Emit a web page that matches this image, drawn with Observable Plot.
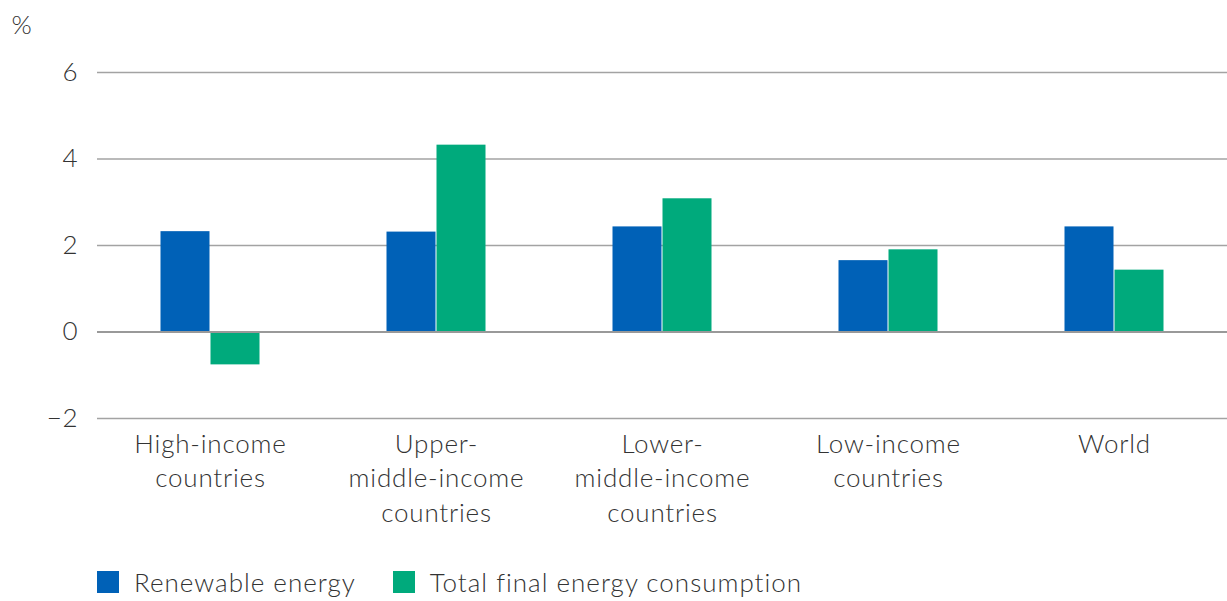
<!DOCTYPE html>
<html>
<head>
<meta charset="utf-8">
<script src="https://cdn.jsdelivr.net/npm/d3@7"></script>
<script src="https://cdn.jsdelivr.net/npm/@observablehq/plot@0.6"></script>
<style>
  html, body { margin: 0; padding: 0; background: #fff; }
  body { width: 1227px; height: 601px; position: relative; overflow: hidden;
         font-family: Lato, "Open Sans", sans-serif; font-weight: 300; color: #333; }
  #legend { position: absolute; left: 97px; top: 560px; height: 44px; display: flex; align-items: center; font-size: 26px; letter-spacing: 1px; }
  .item { display: flex; align-items: center; margin-right: 37px; }
  .sw { width: 22px; height: 22px; margin-right: 15px; }
</style>
</head>
<body>
<div id="chart"></div>
<div id="legend"></div>
<script>
const categories = ["High-income countries", "Upper-middle-income countries", "Lower-middle-income countries", "Low-income countries", "World"];
const categoryLabels = ["High-income\ncountries", "Upper-\nmiddle-income\ncountries", "Lower-\nmiddle-income\ncountries", "Low-income\ncountries", "World"];
const series = ["Renewable energy", "Total final energy consumption"];
const renewable = [2.32, 2.31, 2.43, 1.65, 2.43];
const totalFinal = [-0.76, 4.32, 3.08, 1.90, 1.43];
const colors = ["#0061b7", "#00aa7c"];
const yTicks = [-2, 0, 2, 4, 6];
const unitLabel = "%";

const data = [];
categories.forEach((c, i) => {
  data.push({category: c, series: series[0], value: renewable[i]});
  data.push({category: c, series: series[1], value: totalFinal[i]});
});

const chart = Plot.plot({
  width: 1227,
  height: 545,
  marginLeft: 97,
  marginRight: 0,
  marginTop: 72,
  marginBottom: 127,
  style: {fontFamily: "Lato, 'Open Sans', sans-serif", fontWeight: 300, fontSize: "26px", color: "#333", background: "white", overflow: "visible", letterSpacing: "0.8px"},
  fx: {domain: categories, padding: 0, label: null},
  x: {domain: series, paddingInner: 0, paddingOuter: 1.26, axis: null},
  y: {domain: [-2, 6], label: null},
  color: {domain: series, range: colors},
  marks: [
    Plot.gridY(yTicks, {stroke: "#a3a3a3", strokeOpacity: 1, strokeWidth: 1.5}),
    Plot.barY(data, {fx: "category", x: "series", y: "value", fill: "series", insetLeft: 0.5, insetRight: 0.5}),
    Plot.ruleY([0], {stroke: "#999", strokeWidth: 2}),
    Plot.axisY(yTicks, {tickSize: 0, tickPadding: 19, fontSize: 26, fill: "#333"}),
    Plot.axisFx({anchor: "bottom", tickSize: 0, tickPadding: 10, fontSize: 26, fill: "#333", lineHeight: 1.32,
      tickFormat: d => categoryLabels[categories.indexOf(d)]}),
    Plot.text([unitLabel], {fx: () => categories[0], text: d => d, frameAnchor: "top-left", textAnchor: "start", dx: -86, dy: -57, fontSize: 26, fill: "#333"})
  ]
});
document.getElementById("chart").appendChild(chart);

const legend = document.getElementById("legend");
series.forEach((s, i) => {
  const item = document.createElement("div");
  item.className = "item";
  const sw = document.createElement("span");
  sw.className = "sw";
  sw.style.background = colors[i];
  const t = document.createElement("span");
  t.textContent = s;
  item.appendChild(sw);
  item.appendChild(t);
  legend.appendChild(item);
});
</script>
</body>
</html>
